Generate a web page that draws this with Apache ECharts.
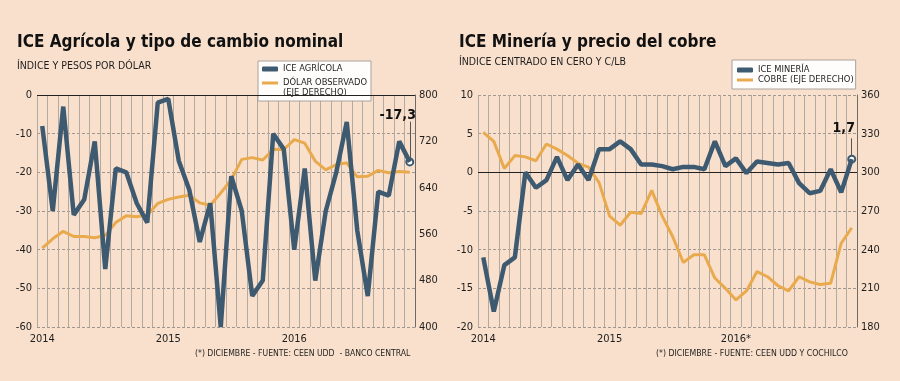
<!DOCTYPE html>
<html>
<head>
<meta charset="utf-8">
<script src="https://cdn.jsdelivr.net/npm/echarts@6/dist/echarts.min.js"></script>
<style>
html,body{margin:0;padding:0;background:#f9e0cc;}
#chart{width:900px;height:381px;}
</style>
</head>
<body>
<div id="chart"></div>
<script>
// ---- data ----
const months = ['2014-01','2014-02','2014-03','2014-04','2014-05','2014-06','2014-07','2014-08','2014-09','2014-10','2014-11','2014-12',
  '2015-01','2015-02','2015-03','2015-04','2015-05','2015-06','2015-07','2015-08','2015-09','2015-10','2015-11','2015-12',
  '2016-01','2016-02','2016-03','2016-04','2016-05','2016-06','2016-07','2016-08','2016-09','2016-10','2016-11','2016-12'];
const yearLabelsLeft = ['2014','2015','2016'];
const yearLabelsRight = ['2014','2015','2016*'];

const iceAgricola = [-8,-30,-3,-31,-27,-12,-45,-19,-20,-28,-33,-2,
  -1,-17,-24.5,-38,-28,-60,-21,-30,-52,-48,-10,-14,
  -40,-19,-48,-30,-20,-7,-35,-52,-25,-26,-12,-17.3];
const dolarObservado = [536,552,565,556,556,554,558,580,592,590,593,613,
  620,624,627,614,610,631,654,689,692,688,706,706,
  723,717,686,671,680,683,659,660,670,666,668,667];

const iceMineria = [-11,-18,-12,-11,0,-2,-1,2,-1,1,-1,3,
  3,4,3,1,1,0.8,0.4,0.7,0.7,0.4,4,0.8,
  1.8,-0.1,1.4,1.2,1.0,1.2,-1.4,-2.7,-2.4,0.4,-2.6,1.7];
const cobre = [331,324,303,313,312,309,322,318,313,307,304,292,
  266,259,269,268,286,266,250,230,236,236,218,210,
  201,208,223,219,212,208,219,215,213,214,245,257];

const leftTicks = {min:-60, max:0, interval:10};
const leftTicksR = {min:400, max:800, interval:80};
const rightTicks = {min:-20, max:10, interval:5};
const rightTicksR = {min:180, max:360, interval:30};

const NAME_AGRI = 'ICE AGRÍCOLA';
const NAME_DOLAR = 'DÓLAR OBSERVADO (EJE DERECHO)';
const NAME_MIN = 'ICE MINERÍA';
const NAME_COBRE = 'COBRE (EJE DERECHO)';

// ---- styling ----
const FONT = '"DejaVu Sans Condensed","DejaVu Sans",sans-serif';
const BLUE = '#3e5a71';
const ORANGE = '#e9aa4e';
const VGRID = '#b4a99f';
const HGRID = '#9f968f';
const TXT = '#1e1e1e';
const LEG_FS = 9.3;

const chart = echarts.init(document.getElementById('chart'), null, {renderer:'canvas'});

function xAxisFor(gridIndex, labels){
  return {
    type:'category', gridIndex, data: months, boundaryGap:true,
    axisLine:{show:false}, axisTick:{show:false},
    axisLabel:{
      interval:(i)=> i % 12 === 0,
      formatter:(v,i)=> labels[Math.floor(i/12)],
      color:TXT, fontFamily:FONT, fontSize:11, margin:7
    },
    splitLine:{show:true, interval:0, lineStyle:{color:VGRID, width:1}}
  };
}
function yAxisLeft(gridIndex, t){
  return {
    type:'value', gridIndex, position:'left', min:t.min, max:t.max, interval:t.interval,
    axisLine:{show:false}, axisTick:{show:false},
    axisLabel:{color:TXT, fontFamily:FONT, fontSize:11, margin:5},
    splitLine:{show:true, lineStyle:{color:HGRID, type:[3,2], width:1}}
  };
}
function yAxisRight(gridIndex, t){
  return {
    type:'value', gridIndex, position:'right', min:t.min, max:t.max, interval:t.interval,
    axisLine:{show:true, lineStyle:{color:'#6f6a66', width:1}}, axisTick:{show:false},
    axisLabel:{color:TXT, fontFamily:FONT, fontSize:11, margin:4},
    splitLine:{show:false}
  };
}
function fmt(v){ return String(v).replace('.', ','); }

function mainSeries(name, values, xi, yi, labelVal, labelOffset){
  const last = values.length - 1;
  const cat = months[last];
  return {
    name, type:'line', xAxisIndex:xi, yAxisIndex:yi,
    data: values,
    showSymbol:false, symbol:'none',
    itemStyle:{color:BLUE},
    lineStyle:{color:BLUE, width:4.5},
    z:5,
    markLine:{
      silent:true, symbol:'none', animation:false,
      label:{show:false},
      data:[
        {yAxis:0, lineStyle:{color:'#222', width:1, type:'solid'}},
        [{coord:[cat, labelVal[0]], lineStyle:{color:'#555', width:1, type:'solid'}}, {coord:[cat, values[last]]}]
      ]
    },
    markPoint:{
      silent:true, animation:false,
      data:[
        {coord:[cat, values[last]], symbol:'circle', symbolSize:7,
          itemStyle:{color:'#fff', borderColor:BLUE, borderWidth:2}, label:{show:false}},
        {coord:[cat, labelVal[1]], symbol:'circle', symbolSize:0,
          label:{show:true, position:'inside', offset:labelOffset, formatter: fmt(values[last]),
            fontFamily:FONT, fontWeight:'bold', fontSize:14, color:'#111'}}
      ]
    }
  };
}
function secSeries(name, values, xi, yi){
  return {
    name, type:'line', xAxisIndex:xi, yAxisIndex:yi, data: values,
    showSymbol:false, symbol:'none',
    itemStyle:{color:ORANGE},
    lineStyle:{color:ORANGE, width:3},
    z:3
  };
}

const legendBase = {
  orient:'vertical', backgroundColor:'#fffdfb', borderColor:'#a9a29c', borderWidth:1,
  itemWidth:16, itemHeight:5, itemGap:2,
  textStyle:{fontFamily:FONT, fontSize:LEG_FS, color:TXT, lineHeight:12},
  selectedMode:false
};
const blueIcon = 'roundRect';
const orangeIcon = 'path://M0,0h16v3h-16z';

const option = {
  animation:false,
  backgroundColor:'#f9e0cc',
  textStyle:{fontFamily:FONT},
  title:[
    {text:'ICE Agrícola y tipo de cambio nominal', left:17, top:34, padding:0, itemGap:10,
     textStyle:{fontFamily:FONT, fontSize:17, fontWeight:'bold', color:'#111'},
     subtext:'ÍNDICE Y PESOS POR DÓLAR', subtextStyle:{fontFamily:FONT, fontSize:10.5, color:TXT}},
    {text:'ICE Minería y precio del cobre', left:459, top:34, padding:0, itemGap:6,
     textStyle:{fontFamily:FONT, fontSize:17, fontWeight:'bold', color:'#111'},
     subtext:'ÍNDICE CENTRADO EN CERO Y C/LB', subtextStyle:{fontFamily:FONT, fontSize:10.5, color:TXT}},
    {text:'(*) DICIEMBRE - FUENTE: CEEN UDD  - BANCO CENTRAL', left:195, top:349, padding:0,
     textStyle:{fontFamily:FONT, fontSize:8.6, fontWeight:'normal', color:TXT}},
    {text:'(*) DICIEMBRE - FUENTE: CEEN UDD Y COCHILCO', left:656, top:349, padding:0,
     textStyle:{fontFamily:FONT, fontSize:8.7, fontWeight:'normal', color:TXT}}
  ],
  legend:[
    Object.assign({}, legendBase, {left:258, top:61, padding:[2,4,12,4],
      formatter:(n)=> n === NAME_DOLAR ? 'DÓLAR OBSERVADO' : n,
      data:[{name:NAME_AGRI, icon:blueIcon}, {name:NAME_DOLAR, icon:orangeIcon}]}),
    Object.assign({}, legendBase, {left:732, top:60, padding:[5,2,4,5], itemGap:0,
      textStyle:{fontFamily:FONT, fontSize:LEG_FS, color:TXT, lineHeight:10},
      data:[{name:NAME_MIN, icon:blueIcon}, {name:NAME_COBRE, icon:orangeIcon}]})
  ],
  graphic:[
    {type:'text', left:283, top:88, z:100, silent:true,
     style:{text:'(EJE DERECHO)', font:LEG_FS + 'px "DejaVu Sans Condensed","DejaVu Sans",sans-serif', fill:TXT}}
  ],
  grid:[
    {left:37, right:485, top:95, height:232, containLabel:false},
    {left:478, right:43, top:95, height:232, containLabel:false}
  ],
  xAxis:[xAxisFor(0, yearLabelsLeft), xAxisFor(1, yearLabelsRight)],
  yAxis:[yAxisLeft(0, leftTicks), yAxisRight(0, leftTicksR), yAxisLeft(1, rightTicks), yAxisRight(1, rightTicksR)],
  series:[
    secSeries(NAME_DOLAR, dolarObservado, 0, 1),
    mainSeries(NAME_AGRI, iceAgricola, 0, 0, [-6.9, -5.2], [-12, 0]),
    secSeries(NAME_COBRE, cobre, 1, 3),
    mainSeries(NAME_MIN, iceMineria, 1, 2, [4.4, 5.7], [-8, 0])
  ]
};
chart.setOption(option);
</script>
</body>
</html>
